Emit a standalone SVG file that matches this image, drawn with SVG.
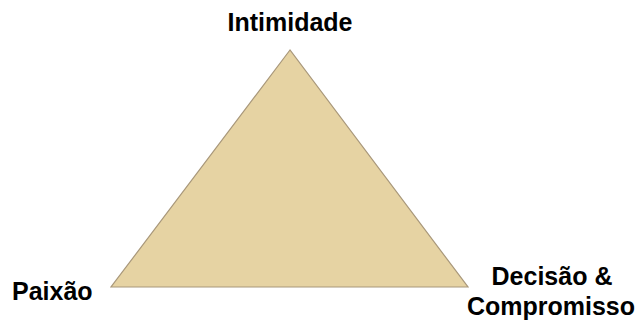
<svg xmlns="http://www.w3.org/2000/svg" width="638" height="324" viewBox="0 0 638 324">
<style>
.lbl{font-family:"Liberation Sans",Arial,sans-serif;font-weight:bold;font-size:25px;fill:#000}
</style>
<rect width="638" height="324" fill="#fff"/>
<g id="triangle">
<polygon points="290,50 111,287 468,287" fill="#e6d3a3" stroke="#a8977a" stroke-width="1.2"/>
</g>
<g id="intimidade"><text class="lbl" x="290" y="31" text-anchor="middle">Intimidade</text></g>
<g id="paixao"><text class="lbl" x="12" y="300">Paixão</text></g>
<g id="decisao"><text class="lbl" x="552" y="285" text-anchor="middle">Decisão &amp;</text><text class="lbl" x="551" y="315" text-anchor="middle">Compromisso</text></g>
</svg>
